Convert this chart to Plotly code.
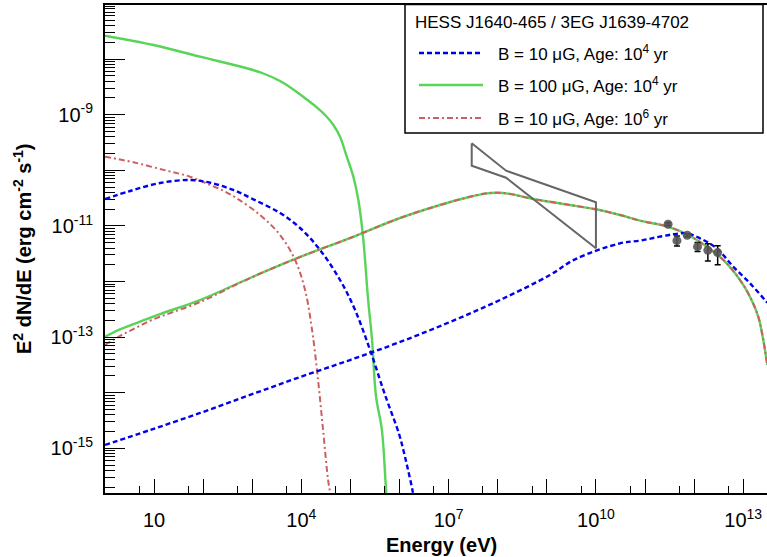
import numpy as np
import plotly.graph_objects as go

# ---------------- data (log10 values) ----------------
# Blue dashed: B = 10 uG, Age 1e4 yr
blue_sync_logE = [0.0, 0.511, 1.122, 1.733, 2.14, 2.615, 3.022, 3.566, 3.974, 4.381, 4.788, 5.094, 5.399, 5.705, 5.99, 6.077, 6.158, 6.269, 6.35]
blue_sync_logF = [-10.516, -10.372, -10.228, -10.174, -10.223, -10.354, -10.522, -10.768, -11.038, -11.433, -11.973, -12.513, -13.232, -14.041, -14.743, -15.03, -15.331, -15.78, -16.2]
blue_ic_logE = [0.0, 0.919, 1.937, 2.955, 3.974, 4.992, 6.01, 7.028, 8.047, 9.065, 9.574, 10.491, 10.898, 11.238, 11.576, 11.849, 12.12, 12.46, 12.798, 13.138, 13.444, 13.49]
blue_ic_logF = [-14.94, -14.671, -14.365, -14.04, -13.718, -13.412, -13.088, -12.728, -12.333, -11.883, -11.601, -11.313, -11.266, -11.205, -11.151, -11.133, -11.223, -11.403, -11.734, -12.032, -12.333, -12.38]

# Green solid: B = 100 uG, Age 1e4 yr
green_sync_logE = [0.0, 0.986, 1.937, 2.888, 3.226, 3.566, 3.837, 4.11, 4.314, 4.517, 4.652, 4.788, 4.925, 5.059, 5.161, 5.257, 5.36, 5.44, 5.52, 5.64, 5.73, 5.78]
green_sync_logF = [-7.579, -7.746, -7.957, -8.165, -8.259, -8.394, -8.547, -8.727, -8.867, -9.036, -9.185, -9.396, -9.755, -10.115, -10.534, -11.2, -12.33, -13.05, -14.06, -14.67, -15.81, -16.3]
green_ic_logE = [0.0, 0.305, 0.715, 1.122, 1.937, 2.955, 3.974, 4.992, 6.01, 6.825, 7.436, 7.741, 7.98, 8.25, 8.658, 9.336, 9.996, 10.491, 10.898, 11.468, 11.916, 12.256, 12.595, 12.935, 13.138, 13.307, 13.409, 13.49]
green_ic_logF = [-12.993, -12.86, -12.72, -12.585, -12.333, -11.937, -11.559, -11.218, -10.858, -10.624, -10.475, -10.419, -10.403, -10.425, -10.504, -10.606, -10.701, -10.804, -10.906, -11.014, -11.182, -11.374, -11.613, -11.973, -12.273, -12.633, -13.052, -13.5]

# Red dash-dot: B = 10 uG, Age 1e6 yr
red_sync_logE = [0.0, 0.578, 1.259, 1.733, 2.14, 2.411, 2.684, 3.159, 3.566, 3.872, 4.075, 4.218, 4.34, 4.442, 4.544, 4.585, 4.62]
red_sync_logF = [-9.755, -9.856, -10.007, -10.115, -10.264, -10.367, -10.504, -10.804, -11.164, -11.613, -12.153, -12.872, -13.772, -14.671, -15.57, -15.8, -16.2]
red_ic_logE = [0.0, 0.342, 0.648, 0.953, 1.937, 2.955, 3.974, 4.992, 6.01, 6.825, 7.436, 7.741, 7.98, 8.25, 8.658, 9.336, 9.996, 10.491, 10.898, 11.468, 11.916, 12.256, 12.595, 12.935, 13.138, 13.307, 13.409, 13.49]
red_ic_logF = [-13.142, -12.962, -12.824, -12.692, -12.369, -11.937, -11.559, -11.218, -10.858, -10.624, -10.475, -10.419, -10.403, -10.425, -10.504, -10.606, -10.701, -10.804, -10.906, -11.014, -11.182, -11.374, -11.613, -11.973, -12.273, -12.633, -13.052, -13.5]

# 3EG J1639-4702 butterfly (closed polygon)
bfly_logE = [7.47, 8.17, 10.0, 10.0, 8.17, 7.47, 7.47]
bfly_logF = [-9.514, -10.007, -10.576, -11.403, -10.133, -9.917, -9.514]

# HESS J1640-465 points
hess_logE = [11.47, 11.65, 11.86, 12.07, 12.28, 12.48]
hess_logF = [-10.97, -11.266, -11.169, -11.374, -11.437, -11.48]
hess_logF_hi = [-10.945, -11.18, -11.145, -11.30, -11.32, -11.356]
hess_logF_lo = [-10.995, -11.36, -11.195, -11.46, -11.63, -11.70]

# axis ticks
x_major_exp = list(range(0, 14))
x_label_exp = [1, 4, 7, 10, 13]
x_minor_exp = list(range(0, 14))
y_major_exp = list(range(-16, -6))
y_label_exp = [-9, -11, -13, -15]

legend_title = "HESS J1640-465 / 3EG J1639-4702"
legend_labels = ["B = 10 \u03bcG, Age: 10<sup>4</sup> yr",
                 "B = 100 \u03bcG, Age: 10<sup>4</sup> yr",
                 "B = 10 \u03bcG, Age: 10<sup>6</sup> yr"]

# ---------------- styles ----------------
BLUE = "#0000ee"
GREEN = "#58d458"
RED = "#cf5f5f"
FONT = "Liberation Sans, Arial, sans-serif"
blue_dash = "5px,3px"
red_dash = "6px,3px,2px,3px"

p10 = lambda a: np.power(10.0, np.asarray(a, dtype=float))

fig = go.Figure()

def curve(le, lf, color, dash, width=2.4):
    fig.add_trace(go.Scatter(x=p10(le), y=p10(lf), mode="lines",
                             line=dict(color=color, width=width, dash=dash, shape="spline", smoothing=1.0),
                             showlegend=False, hoverinfo="skip"))

curve(green_sync_logE, green_sync_logF, GREEN, "solid")
curve(green_ic_logE, green_ic_logF, GREEN, "solid")
curve(red_sync_logE, red_sync_logF, RED, red_dash, 2.0)
curve(red_ic_logE, red_ic_logF, RED, red_dash, 2.0)
curve(blue_sync_logE, blue_sync_logF, BLUE, blue_dash)
curve(blue_ic_logE, blue_ic_logF, BLUE, blue_dash)

fig.add_trace(go.Scatter(x=p10(bfly_logE), y=p10(bfly_logF), mode="lines",
                         line=dict(color="#666666", width=2), showlegend=False, hoverinfo="skip"))

F = p10(hess_logF)
fig.add_trace(go.Scatter(
    x=p10(hess_logE), y=F, mode="markers",
    marker=dict(size=9, color="rgba(85,85,85,0.9)", line=dict(width=0)),
    error_y=dict(type="data", array=p10(hess_logF_hi) - F, arrayminus=F - p10(hess_logF_lo),
                 color="black", thickness=1.5, width=3),
    showlegend=False, hoverinfo="skip"))

# ---------------- layout ----------------
L, R, T, B = 105, 767, 5, 493
W, H = 767, 557
def px(xp): return (xp - L) / (R - L)
def py(yp): return (B - yp) / (B - T)

xmin_log = 0.0
xmax_log = (R - 104.9) / 49.1
ymax_log = -11 + (225.9 - T) / 55.6
ymin_log = -11 - (B - 225.9) / 55.6

def xlab(e):
    return "10" if e == 1 else "10<sup>%d</sup>" % e

fig.update_layout(
    width=W, height=H,
    margin=dict(l=L, r=W - R, t=T, b=H - B, pad=0),
    paper_bgcolor="white", plot_bgcolor="white",
    font=dict(family=FONT, size=20, color="black"),
    showlegend=False,
)
fig.update_xaxes(
    type="log", range=[xmin_log, xmax_log],
    showgrid=False, zeroline=False,
    showline=True, linecolor="black", linewidth=2, mirror=True,
    tickmode="array",
    tickvals=[10.0 ** e for e in x_major_exp],
    ticktext=[xlab(e) if e in x_label_exp else "" for e in x_major_exp],
    ticks="inside", ticklen=14, tickwidth=1, tickcolor="black",
    ticklabelstandoff=8,
    minor=dict(tickmode="array", tickvals=[5.0 * 10.0 ** e for e in x_minor_exp],
               ticks="inside", ticklen=7, tickwidth=1, tickcolor="black", showgrid=False),
    tickfont=dict(family=FONT, size=20, color="black"),
)
fig.update_yaxes(
    type="log", range=[ymin_log, ymax_log],
    showgrid=False, zeroline=False,
    showline=True, linecolor="black", linewidth=2, mirror=False,
    tickmode="array",
    tickvals=[10.0 ** e for e in y_major_exp],
    ticktext=["10<sup>%d</sup>" % e if e in y_label_exp else "" for e in y_major_exp],
    ticks="inside", ticklen=20, tickwidth=1, tickcolor="black",
    ticklabelstandoff=6,
    minor=dict(tickmode="array",
               tickvals=[m * 10.0 ** e for e in y_major_exp for m in range(2, 10)],
               ticks="inside", ticklen=10, tickwidth=1, tickcolor="black", showgrid=False),
    tickfont=dict(family=FONT, size=20, color="black"),
)

annotations = [
    dict(text="<b>Energy (eV)</b>", x=px(441), y=py(545), xref="paper", yref="paper",
         showarrow=False, xanchor="center", yanchor="middle", font=dict(family=FONT, size=20)),
    dict(text="<b>E<sup>2</sup> dN/dE (erg cm<sup>-2</sup> s<sup>-1</sup>)</b>", x=px(22), y=0.5,
         xref="paper", yref="paper", textangle=-90, showarrow=False,
         xanchor="center", yanchor="middle", font=dict(family=FONT, size=20)),
    dict(text=legend_title, x=px(413), y=py(22), xref="paper", yref="paper", showarrow=False,
         xanchor="left", yanchor="middle", font=dict(family=FONT, size=17)),
]
shapes = [
    dict(type="rect", xref="paper", yref="paper", x0=px(405), x1=px(763), y0=py(133), y1=py(4.5),
         line=dict(color="black", width=1.5), fillcolor="white", layer="above"),
]
leg_rows = [53, 85, 118]
leg_styles = [(BLUE, blue_dash, 2.4), (GREEN, "solid", 2.4), (RED, red_dash, 2.0)]
for yr, lab, (c, d, w) in zip(leg_rows, legend_labels, leg_styles):
    shapes.append(dict(type="line", xref="paper", yref="paper", x0=px(419), x1=px(483),
                       y0=py(yr), y1=py(yr), line=dict(color=c, dash=d, width=w), layer="above"))
    annotations.append(dict(text=lab, x=px(496), y=py(yr), xref="paper", yref="paper",
                            showarrow=False, xanchor="left", yanchor="middle",
                            font=dict(family=FONT, size=17)))
fig.update_layout(annotations=annotations, shapes=shapes)

fig.write_html("out.html")
